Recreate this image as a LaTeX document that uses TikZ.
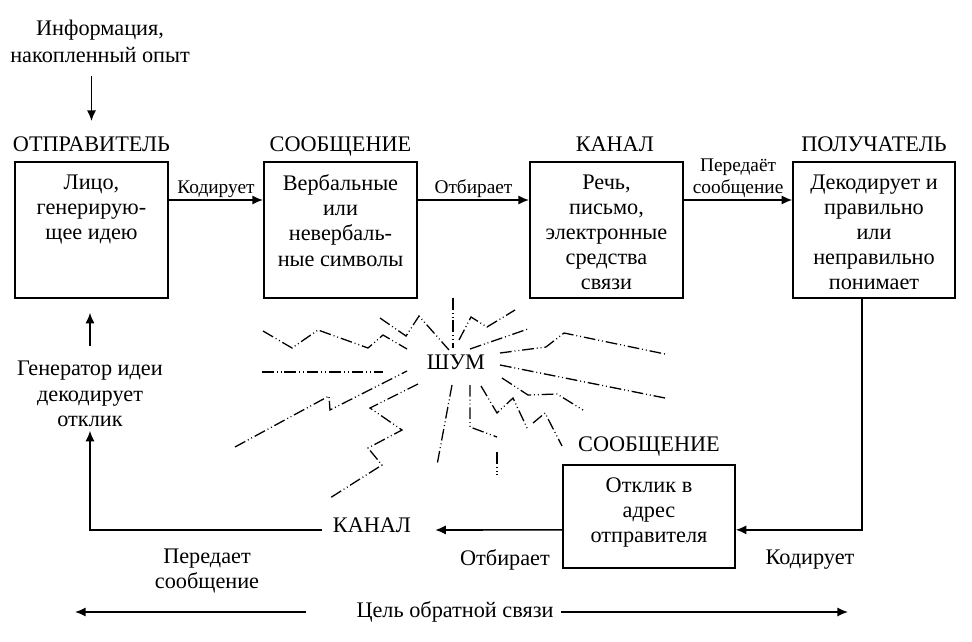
\documentclass[tikz,border=0pt]{standalone}
\usepackage{fontspec}
\setmainfont{Liberation Serif}
\usepackage{tikz}
\usetikzlibrary{arrows.meta, positioning}
\tikzset{
  box/.style={rectangle, draw, line width=1.4pt, minimum width=4.6cm,
    minimum height=4.08cm},
  txt/.style={align=center, font=\fontsize{19}{21.5}\selectfont},
  head/.style={font=\fontsize{19}{21}\selectfont, text height=0.7em,
    text depth=0.2em},
  lbl/.style={align=center, inner sep=1pt, font=\fontsize{16.5}{19.5}\selectfont},
  arrow/.style={line width=1.4pt, -{Latex[length=3.2mm,width=2.8mm]}},
  noise/.style={line width=1.1pt, dash pattern=on 10pt off 2.5pt on 0.8pt
    off 2.5pt on 0.8pt off 2.5pt}
}
\begin{document}
\begin{tikzpicture}[x=0.03cm, y=-0.03cm]
\useasboundingbox (0,0) rectangle (972,642);

\node[txt, font=\fontsize{19}{23}\selectfont] (info) at (100,41) {Информация,\\накопленный опыт};

\node[box]                        (src)  at (91.5,230)  {};
\node[box]                        (msg)  at (340.5,230) {};
\node[box]                        (chan) at (606.5,230) {};
\node[box, minimum width=4.86cm]  (rcv)  at (874,230)   {};
\node[box, minimum width=5.16cm, minimum height=3.09cm] (resp) at (649,516.5) {};

\node[head, above=0.1cm of src]               (srchead)  {ОТПРАВИТЕЛЬ};
\node[head, above=0.1cm of msg]               (msghead)  {СООБЩЕНИЕ};
\node[head, above=0.1cm of chan, xshift=0.25cm] (chanhead) {КАНАЛ};
\node[head, above=0.1cm of rcv]               (rcvhead)  {ПОЛУЧАТЕЛЬ};
\node[head, above=0.2cm of resp]              (resphead) {СООБЩЕНИЕ};

\node[txt, below=0.28cm of src.north]  (srctxt)  {Лицо,\\генерирую-\\щее идею};
\node[txt, below=0.28cm of msg.north]  (msgtxt)  {Вербальные\\или\\невербаль-\\ные символы};
\node[txt, below=0.28cm of chan.north] (chantxt) {Речь,\\письмо,\\электронные\\средства\\связи};
\node[txt, below=0.28cm of rcv.north]  (rcvtxt)  {Декодирует и\\правильно\\или\\неправильно\\понимает};
\node[txt, below=0.28cm of resp.north] (resptxt) {Отклик в\\адрес\\отправителя};

\node[txt]  (gen)    at (90,394)  {Генератор идеи\\декодирует\\отклик};
\node[head] (fbchan) at (372,530) {КАНАЛ};
\node[head] (noisetxt) at (456,367) {ШУМ};
\node[txt]  (sent)   at (207,571) {Передает\\сообщение};
\node[txt]  (pick)   at (505,560) {Отбирает};
\node[txt]  (enc)    at (810,560) {Кодирует};
\node[txt]  (goal)   at (455,612) {Цель обратной связи};
\coordinate (gl) at (75,612);
\coordinate (gr) at (848,612);

\draw[arrow, shorten <=0.3cm, shorten >=0.54cm] (info.south -| srchead.north) -- (srchead.north);
\draw[arrow] ([yshift=0.9cm]src.east) -- node[lbl, above] {Кодирует} ([yshift=0.9cm]msg.west);
\draw[arrow] ([yshift=0.9cm]msg.east) -- node[lbl, above] {Отбирает} ([yshift=0.9cm]chan.west);
\draw[arrow] ([yshift=0.9cm]chan.east) -- node[lbl, above] {Передаёт\\сообщение} ([yshift=0.9cm]rcv.west);
\draw[arrow] ([xshift=-0.36cm]rcv.south) |- ([yshift=-0.4cm]resp.east);
\draw[arrow, shorten >=0.6cm] ([yshift=-0.4cm]resp.west) -- (fbchan.east);
\draw[arrow, shorten <=0.2cm] (fbchan.west) -| (gen.south);
\draw[arrow, shorten <=0.33cm, shorten >=0.42cm] (gen.north) -- (gen.north |- src.south);
\draw[arrow, shorten <=1.4cm] (goal.west) -- (gl);
\draw[arrow, shorten <=0.1cm] (goal.east) -- (gr);

\draw[noise] (263,331) -- (292,348) -- (318,330) -- (368,348) -- (383,335) -- (407,349);
\draw[noise] (380,318) -- (406,336) -- (419,316) -- (449,350);
\draw[noise] (262,372) -- (383,372);
\draw[noise] (453,298) -- (453,348);
\draw[noise] (459,340) -- (471,317) -- (487,327) -- (515,310);
\draw[noise] (470,349) -- (528,329);
\draw[noise] (500,353) -- (546,347) -- (564,333) -- (665,354);
\draw[noise] (500,365) -- (665,398);
\draw[noise] (502,378) -- (528,395) -- (557,394) -- (583,410);
\draw[noise] (481,386) -- (497,413) -- (513,398) -- (528,430);
\draw[noise] (533,423) -- (545,413) -- (562,446);
\draw[noise] (470,385) -- (470,427) -- (497,437);
\draw[noise] (497,452) -- (497,475);
\draw[noise] (452,385) -- (437,465);
\draw[noise] (235,447) -- (329,396) -- (330,410) -- (407,371);
\draw[noise] (418,384) -- (370,408) -- (402,430) -- (368,448) -- (382,465) -- (330,498);
\end{tikzpicture}
\end{document}
